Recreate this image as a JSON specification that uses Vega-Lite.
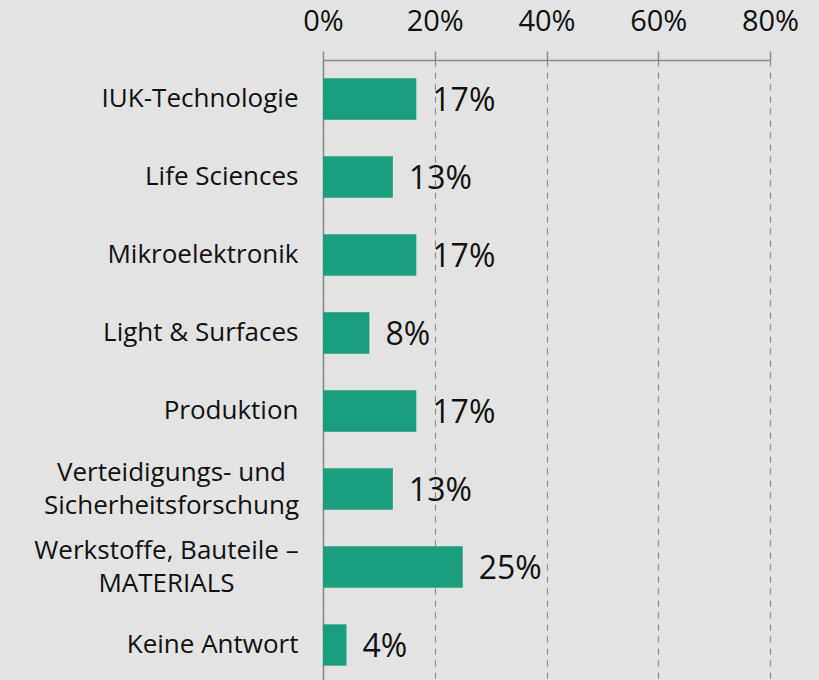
{
  "$schema": "https://vega.github.io/schema/vega-lite/v6.json",
  "autosize": {"type": "none"},
  "padding": {"left": 323, "top": 60, "right": 49, "bottom": 0},
  "width": 447,
  "height": 624,
  "background": "#e2e3e2",
  "config": {
    "view": {"stroke": null},
    "font": "Open Sans"
  },
  "data": {
    "values": [
      {"bereich": "IUK-Technologie", "anteil": 16.7, "label": "17%"},
      {"bereich": "Life Sciences", "anteil": 12.5, "label": "13%"},
      {"bereich": "Mikroelektronik", "anteil": 16.7, "label": "17%"},
      {"bereich": "Light & Surfaces", "anteil": 8.3, "label": "8%"},
      {"bereich": "Produktion", "anteil": 16.7, "label": "17%"},
      {"bereich": "Verteidigungs- und|Sicherheitsforschung", "anteil": 12.5, "label": "13%"},
      {"bereich": "Werkstoffe, Bauteile –|MATERIALS", "anteil": 25.0, "label": "25%"},
      {"bereich": "Keine Antwort", "anteil": 4.2, "label": "4%"}
    ]
  },
  "encoding": {
    "y": {
      "field": "bereich",
      "type": "nominal",
      "sort": null,
      "scale": {"paddingInner": 0.47, "paddingOuter": 0.235},
      "axis": {
        "title": null,
        "ticks": false,
        "domain": true,
        "domainColor": "#8a8a8a",
        "domainWidth": 1.5,
        "labelFontSize": 26,
        "labelColor": "#111111",
        "labelPadding": {"condition": [
          {"test": "indexof(datum.label, 'Werkstoffe') >= 0", "value": 157},
          {"test": "indexof(datum.label, 'Verteidigungs') >= 0", "value": 152}
        ], "value": 25},
        "labelLineHeight": 33,
        "labelLimit": 400,
        "labelAlign": {"condition": {"test": "indexof(datum.label, '|') >= 0", "value": "center"}, "value": "right"},
        "labelOffset": {"condition": {"test": "indexof(datum.label, '|') >= 0", "value": -16}, "value": 0},
        "labelExpr": "split(datum.label, '|')"
      }
    }
  },
  "layer": [
    {
      "mark": {"type": "bar", "color": "#1a9e7e"},
      "encoding": {
        "x": {
          "field": "anteil",
          "type": "quantitative",
          "scale": {"domain": [0, 80], "nice": false},
          "axis": {
            "orient": "top",
            "title": null,
            "values": [0, 20, 40, 60, 80],
            "labelExpr": "datum.value + '%'",
            "labelFontSize": 29,
            "labelFlush": false,
            "labelColor": "#111111",
            "labelPadding": 15,
            "tickSize": 9,
            "tickColor": "#8a8a8a",
            "tickWidth": 1.5,
            "domainColor": "#8a8a8a",
            "domainWidth": 1.5,
            "grid": true,
            "gridColor": "#8a8a8a",
            "gridDash": [6, 6],
            "gridWidth": 1.2
          }
        }
      }
    },
    {
      "mark": {"type": "text", "align": "left", "baseline": "middle", "dx": 16, "dy": 2, "fontSize": 32, "color": "#111111"},
      "encoding": {
        "x": {"field": "anteil", "type": "quantitative"},
        "text": {"field": "label"}
      }
    }
  ]
}
